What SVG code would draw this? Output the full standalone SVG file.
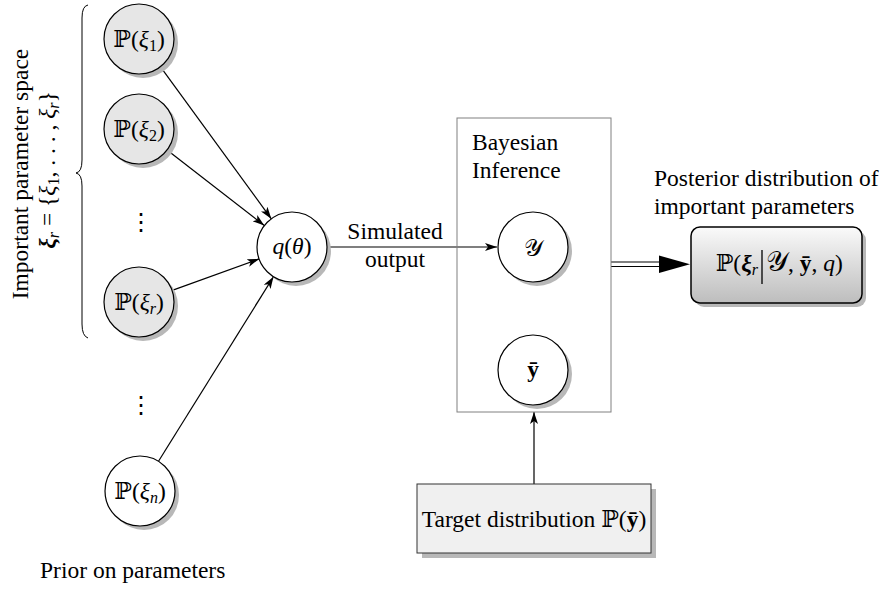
<svg xmlns="http://www.w3.org/2000/svg" width="885" height="594" viewBox="0 0 885 594">
<defs>
<marker id="ah" viewBox="0 0 12 8" refX="12" refY="4" markerWidth="12" markerHeight="8" markerUnits="userSpaceOnUse" orient="auto">
<path d="M0,0 L12,4 L0,8 L3,4 Z" fill="#000"/>
</marker>
<linearGradient id="pg" x1="0" y1="0" x2="0" y2="1">
<stop offset="0" stop-color="#fafafa"/>
<stop offset="1" stop-color="#bdbdbd"/>
</linearGradient>
</defs>
<style>
text{font-family:"Liberation Serif","DejaVu Serif",serif;font-size:23.5px;fill:#000}
.c{text-anchor:middle}
.e{text-anchor:end}
.node{fill:#fff;stroke:#000;stroke-width:1.2}
.shade{fill:#e6e6e6}
.sh{fill:#b8b8b8;stroke:none}
.edge{stroke:#000;stroke-width:1.2;fill:none;marker-end:url(#ah)}
.it{font-style:italic}
.sub{font-size:16px}
</style>
<rect width="885" height="594" fill="#fff"/>

<!-- left labels -->
<g id="label-space">
<text class="c" transform="translate(28,174) rotate(-90)">Important parameter space</text>
<text class="c" transform="translate(55,170) rotate(-90)"><tspan font-weight="bold" font-style="italic">ξ</tspan><tspan class="sub it" dy="4">r</tspan><tspan dy="-4"> = {</tspan><tspan class="it">ξ</tspan><tspan class="sub" dy="4">1</tspan><tspan dy="-4">, . . . , </tspan><tspan class="it">ξ</tspan><tspan class="sub it" dy="4">r</tspan><tspan dy="-4">}</tspan></text>
<path d="M88,5 Q82,6 82,18 L82,160 Q82,172 76,173 Q82,174 82,186 L82,324 Q82,336 88,338" fill="none" stroke="#000" stroke-width="1"/>
</g>

<!-- connectors -->
<g id="connectors">
<line class="edge" x1="160.7" y1="67.2" x2="271.3" y2="218.8"/>
<line class="edge" x1="167.7" y1="150.5" x2="264.3" y2="225.5"/>
<line class="edge" x1="172.9" y1="290.1" x2="259.1" y2="258.9"/>
<line class="edge" x1="158.5" y1="461.3" x2="273.5" y2="276.7"/>
<line class="edge" x1="327" y1="247" x2="497" y2="247"/>
<line class="edge" x1="534" y1="484" x2="534" y2="412"/>
<line x1="611" y1="262" x2="662" y2="262" stroke="#000" stroke-width="1.2"/>
<line x1="611" y1="266.5" x2="662" y2="266.5" stroke="#000" stroke-width="1.2"/>
<path d="M659,255.5 L690,264.2 L659,273 Z" fill="#000"/>
</g>

<g id="n-xi1">
<circle class="sh" cx="143" cy="43" r="35"/>
<circle class="node shade" cx="139" cy="39" r="35"/>
<text class="c" x="139" y="47">ℙ(<tspan class="it">ξ</tspan><tspan class="sub" dy="4">1</tspan><tspan dy="-4">)</tspan></text>
</g>
<g id="n-xi2">
<circle class="sh" cx="143" cy="133" r="35"/>
<circle class="node shade" cx="139" cy="129" r="35"/>
<text class="c" x="139" y="137">ℙ(<tspan class="it">ξ</tspan><tspan class="sub" dy="4">2</tspan><tspan dy="-4">)</tspan></text>
</g>
<text class="c" x="141" y="230">⋮</text>
<g id="n-xir">
<circle class="sh" cx="143" cy="306" r="35"/>
<circle class="node shade" cx="139" cy="302" r="35"/>
<text class="c" x="139" y="310">ℙ(<tspan class="it">ξ</tspan><tspan class="sub it" dy="4">r</tspan><tspan dy="-4">)</tspan></text>
</g>
<text class="c" x="141" y="413">⋮</text>
<g id="n-xin">
<circle class="sh" cx="144" cy="495" r="35"/>
<circle class="node" cx="140" cy="491" r="35"/>
<text class="c" x="140" y="499">ℙ(<tspan class="it">ξ</tspan><tspan class="sub it" dy="4">n</tspan><tspan dy="-4">)</tspan></text>
</g>

<g id="n-q">
<circle class="sh" cx="296" cy="251" r="35"/>
<circle class="node" cx="292" cy="247" r="35"/>
<text class="c" x="292" y="254"><tspan class="it">q</tspan>(<tspan class="it">θ</tspan>)</text>
</g>

<g id="sim-label">
<text class="c" x="395" y="239">Simulated</text>
<text class="c" x="395" y="267">output</text>
</g>

<g id="bayes">
<rect x="457" y="118" width="154" height="294" fill="none" stroke="#808080" stroke-width="1"/>
<text x="472" y="150">Bayesian</text>
<text x="472" y="178">Inference</text>
</g>

<g id="n-Y">
<circle class="sh" cx="537" cy="251" r="35"/>
<circle class="node" cx="533" cy="247" r="35"/>
<text class="c" x="533" y="256" font-size="31">𝒴</text>
</g>
<g id="n-ybar">
<circle class="sh" cx="537" cy="374" r="35"/>
<circle class="node" cx="533" cy="370" r="35"/>
<text class="c" x="533" y="377" font-weight="bold">ȳ</text>
</g>

<g id="n-target">
<rect x="422" y="489" width="234" height="69" fill="#b8b8b8"/>
<rect x="417" y="484" width="234" height="69" fill="#f0f0f0" stroke="#333" stroke-width="1"/>
<text class="c" x="534" y="527">Target distribution ℙ(<tspan font-weight="bold">ȳ</tspan>)</text>
</g>

<g id="post-label">
<text x="654" y="186">Posterior distribution of</text>
<text x="654" y="214">important parameters</text>
</g>

<g id="n-post">
<rect x="695" y="231" width="171" height="76" rx="9" fill="#b8b8b8"/>
<rect x="691" y="227" width="171" height="76" rx="9" fill="url(#pg)" stroke="#000" stroke-width="1.5"/>
<text class="e" x="758" y="271">ℙ(<tspan font-weight="bold" font-style="italic">ξ</tspan><tspan class="sub it" dy="4">r</tspan></text>
<line x1="762" y1="250" x2="762" y2="284" stroke="#000" stroke-width="1.3"/>
<text x="766" y="271"><tspan font-size="28">𝒴</tspan>, <tspan font-weight="bold">ȳ</tspan>, <tspan class="it">q</tspan>)</text>
</g>

<text x="40" y="578">Prior on parameters</text>
</svg>
